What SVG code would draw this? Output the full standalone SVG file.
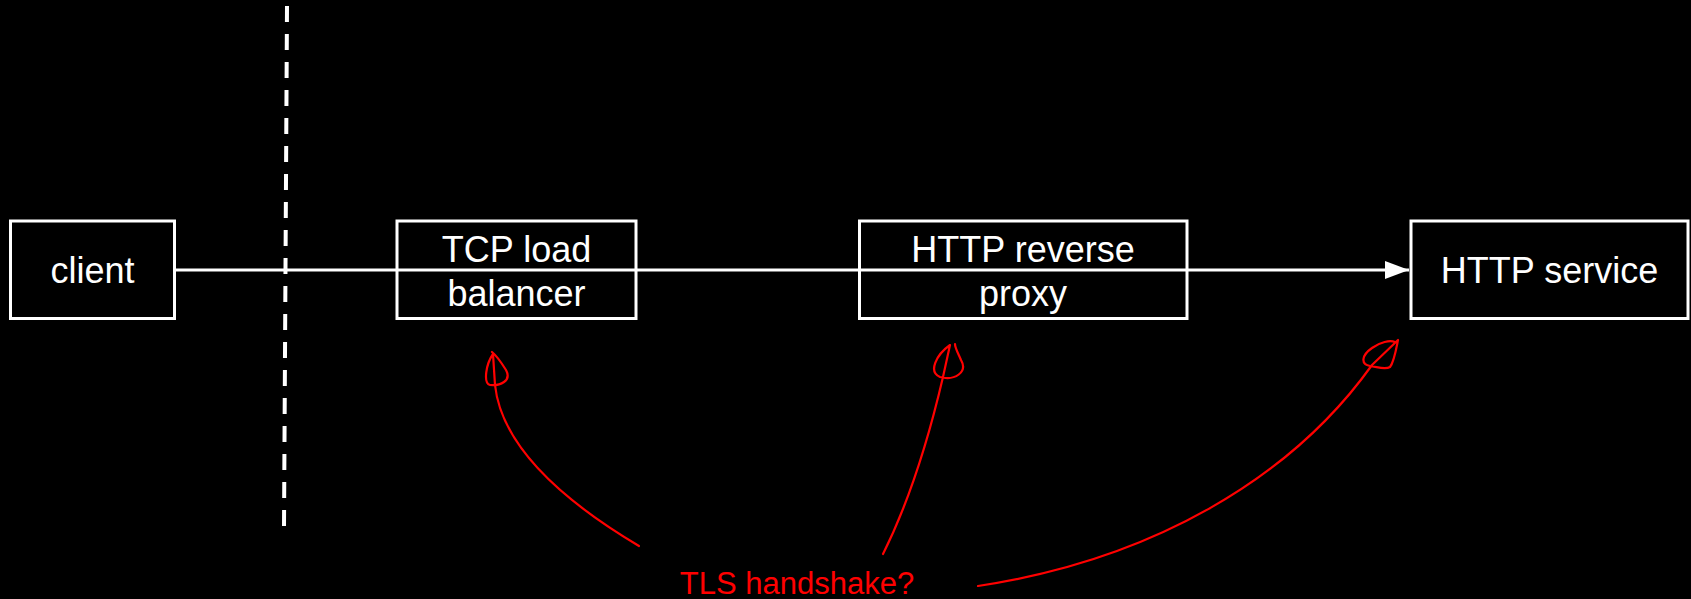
<svg xmlns="http://www.w3.org/2000/svg" width="1691" height="599" viewBox="0 0 1691 599">
  <style>
    .box { fill: none; stroke: #fff; stroke-width: 3; }
    .label { fill: #fff; font-family: "Liberation Sans", Arial, sans-serif; font-size: 36px; text-anchor: middle; }
    .link { fill: none; stroke: #fff; stroke-width: 3; }
    .boundary { fill: none; stroke: #fff; stroke-width: 4; stroke-dasharray: 16 12; }
    .note { fill: none; stroke: #ff0000; stroke-width: 2.2; stroke-linecap: round; stroke-linejoin: round; }
    .note-text { fill: #ff0000; font-family: "Liberation Sans", Arial, sans-serif; font-size: 31px; text-anchor: middle; }
  </style>
  <defs>
    <marker id="arrow" markerWidth="24" markerHeight="18" refX="24" refY="9" orient="auto" markerUnits="userSpaceOnUse">
      <path d="M0,0 L24,9 L0,18 Z" fill="#fff"/>
    </marker>
  </defs>
  <rect width="1691" height="599" fill="#000"/>

  <!-- network boundary -->
  <line class="boundary" x1="287" y1="6" x2="284" y2="527"/>

  <g id="client">
    <rect class="box" x="10.5" y="221" width="164" height="97.5"/>
    <text class="label" x="92.5" y="283">client</text>
  </g>

  <g id="tcp-lb">
    <rect class="box" x="397" y="221" width="239" height="97.5"/>
    <text class="label" x="516.5" y="262">TCP load</text>
    <text class="label" x="516.5" y="306">balancer</text>
  </g>

  <g id="reverse-proxy">
    <rect class="box" x="859.5" y="221" width="327.5" height="97.5"/>
    <text class="label" x="1023" y="262">HTTP reverse</text>
    <text class="label" x="1023" y="306">proxy</text>
  </g>

  <g id="http-service">
    <rect class="box" x="1411" y="221" width="277" height="97.5"/>
    <text class="label" x="1549.5" y="283">HTTP service</text>
  </g>

  <!-- the request path runs straight through the middle boxes -->
  <g id="connectors">
    <line class="link" x1="175" y1="270" x2="1409" y2="270" marker-end="url(#arrow)"/>
  </g>

  <!-- hand-drawn annotation -->
  <g id="tls-note">
    <path class="note" d="M639,546 C570,505 502,450 495,385 L493,354 C486,364 483,383 490,385 C500,386 512,381 506,370 C501,362 497,356 492,352"/>
    <path class="note" d="M883,554 C905,510 926,450 943,377 L950,345 C936,355 928,372 940,377 C955,381 968,372 961,360 C958,353 955,348 955,344"/>
    <path class="note" d="M978,586 C1150,560 1290,480 1372,365 L1398,340 C1396,350 1394,362 1390,367 C1385,370 1378,367 1370,366 C1360,364 1362,355 1372,348 C1380,342 1390,340 1395,342"/>
    <text class="note-text" x="797" y="594">TLS handshake?</text>
  </g>
</svg>
